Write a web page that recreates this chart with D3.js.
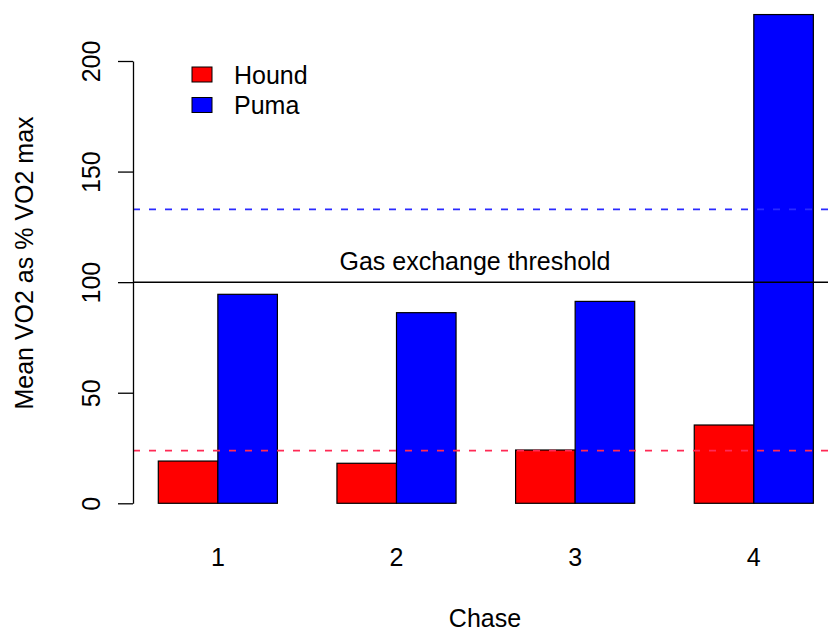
<!DOCTYPE html>
<html>
<head>
<meta charset="utf-8">
<script src="https://cdn.jsdelivr.net/npm/d3@7"></script>
<style>
  body { margin: 0; background: #fff; }
  svg { display: block; font-family: "Liberation Sans", Arial, sans-serif; }
</style>
</head>
<body>
<div id="plot"></div>
<script>
// data
const chases = ["1", "2", "3", "4"];
const species = ["Hound", "Puma"];
const colours = ["#ff0000", "#0000ff"];
const hound = [19.1, 18.1, 24.1, 35.4];
const puma = [94.5, 86.2, 91.3, 221];
const yTicks = [0, 50, 100, 150, 200];
const threshold = 100;
const houndRef = 23.8;   // red dashed
const pumaRef = 132.9;   // blue dashed

const width = 828, height = 632;

const svg = d3.select("#plot")
    .append("svg")
    .attr("width", width)
    .attr("height", height);

// y scale: 0..200 on the axis
const y = d3.scaleLinear()
    .domain([0, 200])
    .range([503.3, 61]);

// x in barplot units (each bar 1 wide, one unit gap between groups)
const x = d3.scaleLinear()
    .domain([1, 13])
    .range([158.3, 872.9]);

const axisX = 133;

// bars
const bars = [];
chases.forEach((c, i) => {
  bars.push({ start: 1 + 3 * i, value: hound[i], col: colours[0] });
  bars.push({ start: 2 + 3 * i, value: puma[i], col: colours[1] });
});

svg.append("g")
    .selectAll("rect")
    .data(bars)
    .enter()
    .append("rect")
    .attr("x", d => x(d.start))
    .attr("width", d => x(d.start + 1) - x(d.start))
    .attr("y", d => y(d.value))
    .attr("height", d => y(0) - y(d.value))
    .attr("fill", d => d.col)
    .attr("stroke", "#000")
    .attr("stroke-width", 1.2);

// reference lines
svg.append("line")
    .attr("x1", axisX).attr("x2", width)
    .attr("y1", y(pumaRef)).attr("y2", y(pumaRef))
    .attr("stroke", "#2a2aff").attr("stroke-width", 1.8)
    .attr("stroke-dasharray", "7,9");

svg.append("line")
    .attr("x1", axisX).attr("x2", width)
    .attr("y1", y(houndRef)).attr("y2", y(houndRef))
    .attr("stroke", "#ff2a55").attr("stroke-width", 1.8)
    .attr("stroke-dasharray", "7,9");

svg.append("line")
    .attr("x1", axisX).attr("x2", width)
    .attr("y1", y(threshold)).attr("y2", y(threshold))
    .attr("stroke", "#000").attr("stroke-width", 1.5);

svg.append("text")
    .attr("x", 475)
    .attr("y", 270)
    .attr("text-anchor", "middle")
    .attr("font-size", 25)
    .text("Gas exchange threshold");

// y axis
const yAxis = svg.append("g")
    .attr("transform", "translate(" + axisX + ",0)")
    .call(d3.axisLeft(y).tickValues(yTicks).tickSize(15).tickSizeOuter(0));
yAxis.select(".domain").attr("stroke-width", 1.3);
yAxis.selectAll(".tick line").attr("stroke-width", 1.3);
yAxis.selectAll(".tick text")
    .attr("x", 0)
    .attr("dy", 0)
    .attr("transform", "translate(-33,0) rotate(-90)")
    .attr("text-anchor", "middle")
    .attr("font-size", 25)
    .attr("font-family", "Liberation Sans, Arial, sans-serif")
    .attr("fill", "#000");

svg.append("text")
    .attr("transform", "translate(33,263) rotate(-90)")
    .attr("text-anchor", "middle")
    .attr("font-size", 25)
    .text("Mean VO2 as % VO2 max");

// chase labels under each group
svg.append("g")
    .selectAll("text")
    .data(chases)
    .enter()
    .append("text")
    .attr("x", (d, i) => x(2 + 3 * i))
    .attr("y", 566)
    .attr("text-anchor", "middle")
    .attr("font-size", 25)
    .text(d => d);

svg.append("text")
    .attr("x", 485)
    .attr("y", 627)
    .attr("text-anchor", "middle")
    .attr("font-size", 25)
    .text("Chase");

// legend
const legend = svg.append("g")
    .selectAll("g")
    .data(species)
    .enter()
    .append("g")
    .attr("transform", (d, i) => "translate(192," + (67 + i * 30.5) + ")");

legend.append("rect")
    .attr("width", 20)
    .attr("height", 15)
    .attr("fill", (d, i) => colours[i])
    .attr("stroke", "#000")
    .attr("stroke-width", 1);

legend.append("text")
    .attr("x", 42)
    .attr("y", 16.5)
    .attr("font-size", 25)
    .text(d => d);
</script>
</body>
</html>
